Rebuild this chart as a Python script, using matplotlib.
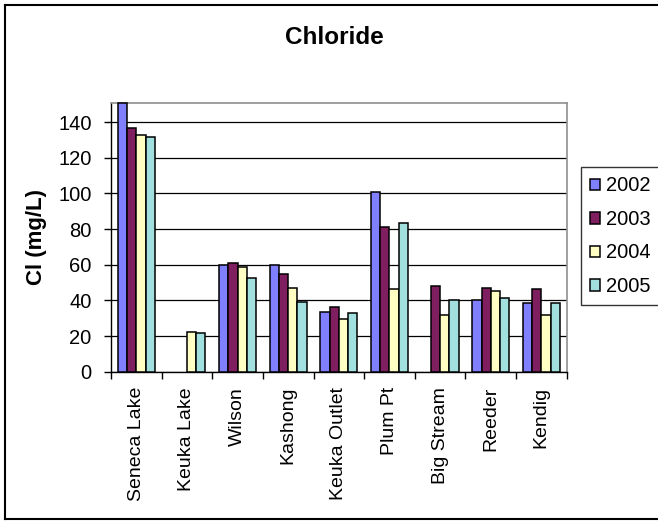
import numpy as np
import matplotlib
matplotlib.use("Agg")
import matplotlib.pyplot as plt
from matplotlib.lines import Line2D

plt.rcParams['font.family'] = ['Liberation Sans', 'DejaVu Sans']

# data (nan = no bar)
sites = ["Seneca Lake", "Keuka Lake", "Wilson", "Kashong", "Keuka Outlet",
         "Plum Pt", "Big Stream", "Reeder", "Kendig"]
years = ["2002", "2003", "2004", "2005"]
cl_2002 = [151, np.nan, 60, 60, 33.5, 101, np.nan, 40, 38.5]
cl_2003 = [137, np.nan, 61, 55, 36.5, 81, 48, 47, 46.3]
cl_2004 = [133, 22.3, 59, 47, 29.6, 46.3, 32, 45.5, 32]
cl_2005 = [131.5, 21.5, 52.5, 39, 32.8, 83.5, 40, 41.5, 38.5]
colors = ['#8080FF', '#7F1F5F', '#FFFFC4', '#A2E0E0']

series = [cl_2002, cl_2003, cl_2004, cl_2005]

fig = plt.figure(figsize=(6.58, 5.21), dpi=100)
ax = fig.add_axes([0.1687, 0.2866, 0.8612 - 0.1687, 0.8017 - 0.2866])

x = np.arange(len(sites))
w = 1 / 5.5
for i, (vals, c, yr) in enumerate(zip(series, colors, years)):
    ax.bar(x - 2 * w + i * w + w / 2, vals, width=w, color=c,
           edgecolor='black', linewidth=1.1, label=yr, zorder=3, clip_on=False)

ax.set_xlim(-0.5, len(sites) - 0.5)
ax.set_ylim(0, 150.6)
ax.set_yticks(range(0, 141, 20))
ax.yaxis.grid(True, color='black', linewidth=0.9, zorder=0)
ax.set_axisbelow(True)

ax.set_xticks(np.arange(len(sites) + 1) - 0.5)
ax.set_xticklabels([])
ax.set_xticks(x, minor=True)
ax.set_xticklabels(sites, minor=True, rotation=90, va='top', ha='center')
ax.tick_params(axis='x', which='minor', length=0, pad=11, labelsize=14)
ax.tick_params(axis='x', which='major', length=5, width=1, direction='out')
ax.tick_params(axis='y', length=5, width=1, direction='out', labelsize=14.5, pad=9)

for s in ['top', 'right']:
    ax.spines[s].set_color('#909090')
    ax.spines[s].set_linewidth(1.2)
for s in ['left', 'bottom']:
    ax.spines[s].set_linewidth(1.0)

ax.set_ylabel("Cl (mg/L)", fontsize=16, fontweight='bold', labelpad=8)
fig.text(0.508, 1 - 38 / 521, "Chloride", ha='center', va='center',
         fontsize=17.5, fontweight='bold')

leg = ax.legend(loc='lower left', bbox_to_anchor=(580.7 / 658, 1 - 305 / 521),
                bbox_transform=fig.transFigure, fontsize=14.5, frameon=True,
                fancybox=False, edgecolor='black', handlelength=0.5,
                handleheight=0.5, handletextpad=0.3, labelspacing=0.72,
                borderpad=0.45, borderaxespad=0)
leg.get_frame().set_linewidth(1.0)

# outer chart border
for xs, ys in [([5, 5], [5, 519]), ([5, 658], [5, 5]), ([5, 658], [519, 519])]:
    fig.add_artist(Line2D([v / 658 for v in xs], [1 - v / 521 for v in ys],
                          color='black', linewidth=1.5))

fig.savefig("out.png", dpi=100)
